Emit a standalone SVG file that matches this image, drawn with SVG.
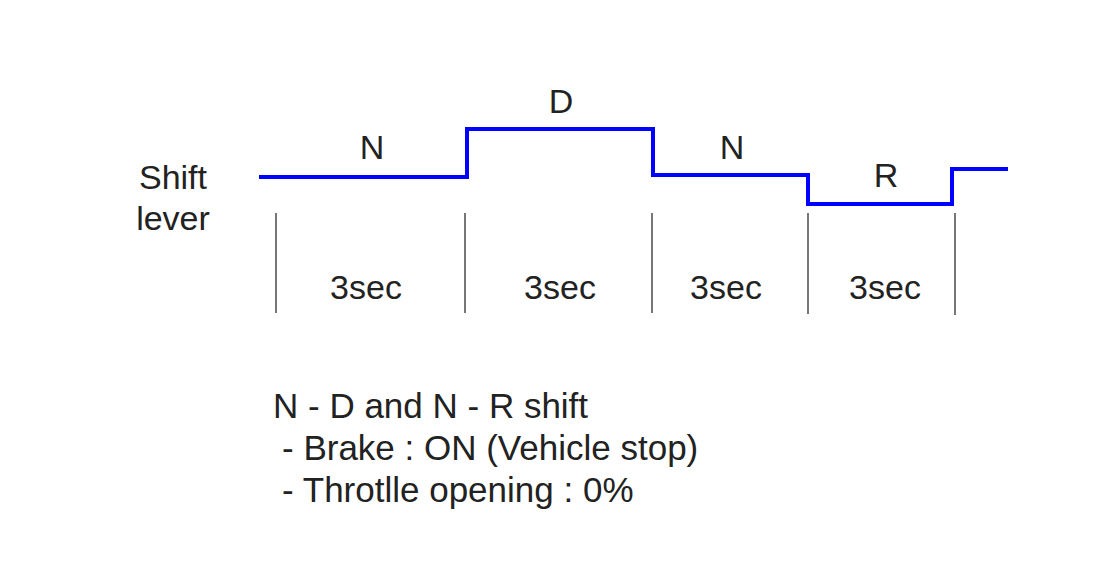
<svg xmlns="http://www.w3.org/2000/svg" width="1097" height="569" viewBox="0 0 1097 569">
  <style>
    text { font-family: "Liberation Sans", Arial, sans-serif; font-size: 34px; fill: #222; }
    .c { text-anchor: middle; }
    .note { font-size: 35px; }
    .tick { stroke: #555; stroke-width: 1.6; fill: none; }
    .sig { stroke: #0000ff; stroke-width: 4; fill: none; stroke-linejoin: miter; }
  </style>
  <rect width="1097" height="569" fill="#ffffff"/>
  <g id="axis-label">
    <text class="c" x="173" y="189">Shift</text>
    <text class="c" x="173" y="230">lever</text>
  </g>
  <g id="connectors">
    <path id="shift-signal" class="sig" d="M259,177 H467 V129 H653 V175 H808 V204 H952 V169 H1008"/>
    <line class="tick" x1="276" y1="213" x2="276" y2="313"/>
    <line class="tick" x1="465" y1="213" x2="465" y2="313"/>
    <line class="tick" x1="652" y1="213" x2="652" y2="313"/>
    <line class="tick" x1="808" y1="213" x2="808" y2="314"/>
    <line class="tick" x1="955" y1="213" x2="955" y2="315"/>
  </g>
  <g id="positions">
    <text class="c" x="372" y="159">N</text>
    <text class="c" x="561" y="113">D</text>
    <text class="c" x="732" y="159">N</text>
    <text class="c" x="886" y="187">R</text>
  </g>
  <g id="durations">
    <text class="c" x="366" y="299">3sec</text>
    <text class="c" x="560" y="299">3sec</text>
    <text class="c" x="726" y="299">3sec</text>
    <text class="c" x="885" y="299">3sec</text>
  </g>
  <g id="notes">
    <text class="note" x="273" y="418">N - D and N - R shift</text>
    <text class="note" x="282" y="460">- Brake : ON (Vehicle stop)</text>
    <text class="note" x="282" y="502">- Throtlle opening : 0%</text>
  </g>
</svg>
